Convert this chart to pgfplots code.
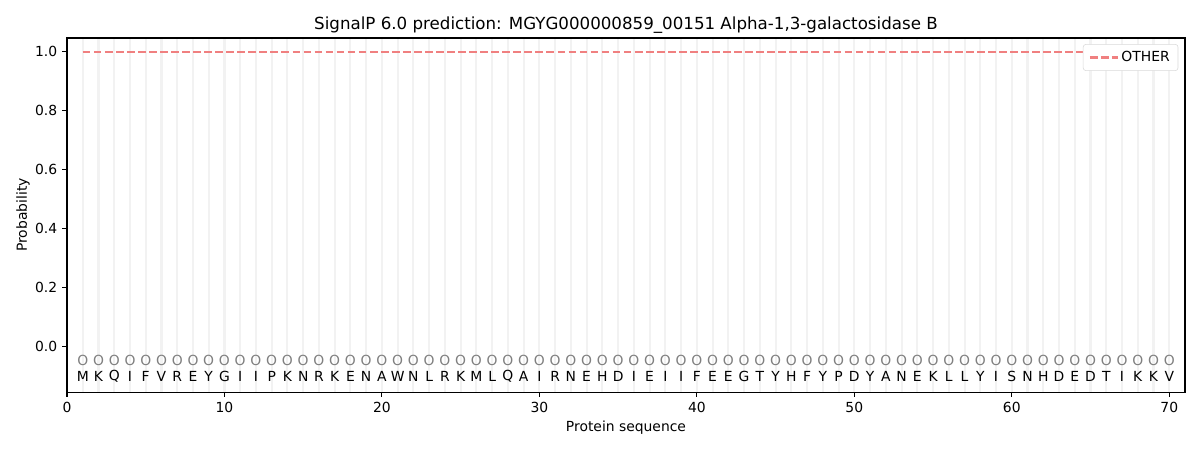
\documentclass[border=0pt]{standalone}
\usepackage{fontspec}
\setmainfont{DejaVu Sans}
\usepackage{pgfplots}
\usepackage{pgfplotstable}
\pgfplotsset{compat=1.18}
\definecolor{other}{RGB}{240,128,128}
\definecolor{gridc}{RGB}{242,242,242}
\pgfplotstableread{
x yo yl aa
1 -0.045 -0.10 M
2 -0.045 -0.10 K
3 -0.045 -0.10 Q
4 -0.045 -0.10 I
5 -0.045 -0.10 F
6 -0.045 -0.10 V
7 -0.045 -0.10 R
8 -0.045 -0.10 E
9 -0.045 -0.10 Y
10 -0.045 -0.10 G
11 -0.045 -0.10 I
12 -0.045 -0.10 I
13 -0.045 -0.10 P
14 -0.045 -0.10 K
15 -0.045 -0.10 N
16 -0.045 -0.10 R
17 -0.045 -0.10 K
18 -0.045 -0.10 E
19 -0.045 -0.10 N
20 -0.045 -0.10 A
21 -0.045 -0.10 W
22 -0.045 -0.10 N
23 -0.045 -0.10 L
24 -0.045 -0.10 R
25 -0.045 -0.10 K
26 -0.045 -0.10 M
27 -0.045 -0.10 L
28 -0.045 -0.10 Q
29 -0.045 -0.10 A
30 -0.045 -0.10 I
31 -0.045 -0.10 R
32 -0.045 -0.10 N
33 -0.045 -0.10 E
34 -0.045 -0.10 H
35 -0.045 -0.10 D
36 -0.045 -0.10 I
37 -0.045 -0.10 E
38 -0.045 -0.10 I
39 -0.045 -0.10 I
40 -0.045 -0.10 F
41 -0.045 -0.10 E
42 -0.045 -0.10 E
43 -0.045 -0.10 G
44 -0.045 -0.10 T
45 -0.045 -0.10 Y
46 -0.045 -0.10 H
47 -0.045 -0.10 F
48 -0.045 -0.10 Y
49 -0.045 -0.10 P
50 -0.045 -0.10 D
51 -0.045 -0.10 Y
52 -0.045 -0.10 A
53 -0.045 -0.10 N
54 -0.045 -0.10 E
55 -0.045 -0.10 K
56 -0.045 -0.10 L
57 -0.045 -0.10 L
58 -0.045 -0.10 Y
59 -0.045 -0.10 I
60 -0.045 -0.10 S
61 -0.045 -0.10 N
62 -0.045 -0.10 H
63 -0.045 -0.10 D
64 -0.045 -0.10 E
65 -0.045 -0.10 D
66 -0.045 -0.10 T
67 -0.045 -0.10 I
68 -0.045 -0.10 K
69 -0.045 -0.10 K
70 -0.045 -0.10 V
}\seq
\begin{document}
\begin{tikzpicture}
\begin{axis}[
  scale only axis, width=805pt, height=254.9pt,
  xmin=0, xmax=71, ymin=-0.153, ymax=1.047,
  axis line style={line width=0.8pt},
  tick align=outside, tick pos=lower,
  major tick length=3.5pt, minor tick length=0pt,
  major tick style={black, line width=0.8pt},
  minor tick style={draw=none},
  xtick={0,10,...,70}, ytick={0,0.2,...,1.0},
  minor xtick={1,...,70},
  xminorgrids=true,
  minor grid style={gridc, line width=1.5pt},
  yticklabel style={/pgf/number format/.cd, fixed, fixed zerofill, precision=1},
  /pgf/number format/assume math mode=true,
  ticklabel style={font=\fontsize{10}{12}\selectfont},
  title={SignalP 6.0 prediction: MGYG000000859\_00151 Alpha-1,3-galactosidase B},
  title style={font=\fontsize{12}{14}\selectfont, yshift=-6pt},
  xlabel={Protein sequence}, ylabel={Probability},
  xlabel style={font=\fontsize{10}{12}\selectfont, yshift=1pt},
  ylabel style={font=\fontsize{10}{12}\selectfont, yshift=-3pt},
  legend style={at={(rel axis cs:0.994,0.983)}, anchor=north east, rounded corners=2pt, draw=black!15, font=\fontsize{10}{12}\selectfont, inner xsep=4pt, inner ysep=3pt},
  legend cell align=left,
  legend image code/.code={\draw[#1] (0pt,0pt) -- (20pt,0pt);},
]
\addplot[other, line width=1.5pt, dash pattern=on 5.55pt off 2.4pt] coordinates {(1,1) (70,1)};
\addlegendentry{OTHER}
\addplot[draw=none, mark=none, nodes near coords={O}, nodes near coords align={center}, every node near coord/.style={text=gray, font=\fontsize{10}{12}\selectfont, inner sep=0pt}, forget plot] table[x=x, y=yo] {\seq};
\addplot[draw=none, mark=none, point meta=explicit symbolic, nodes near coords, nodes near coords align={center}, every node near coord/.style={text=black, font=\fontsize{10}{12}\selectfont, inner sep=0pt}, forget plot] table[x=x, y=yl, meta=aa] {\seq};
\end{axis}
\useasboundingbox (-48.24pt,-41.76pt) rectangle (815.8pt,282.3pt);
\end{tikzpicture}
\end{document}
